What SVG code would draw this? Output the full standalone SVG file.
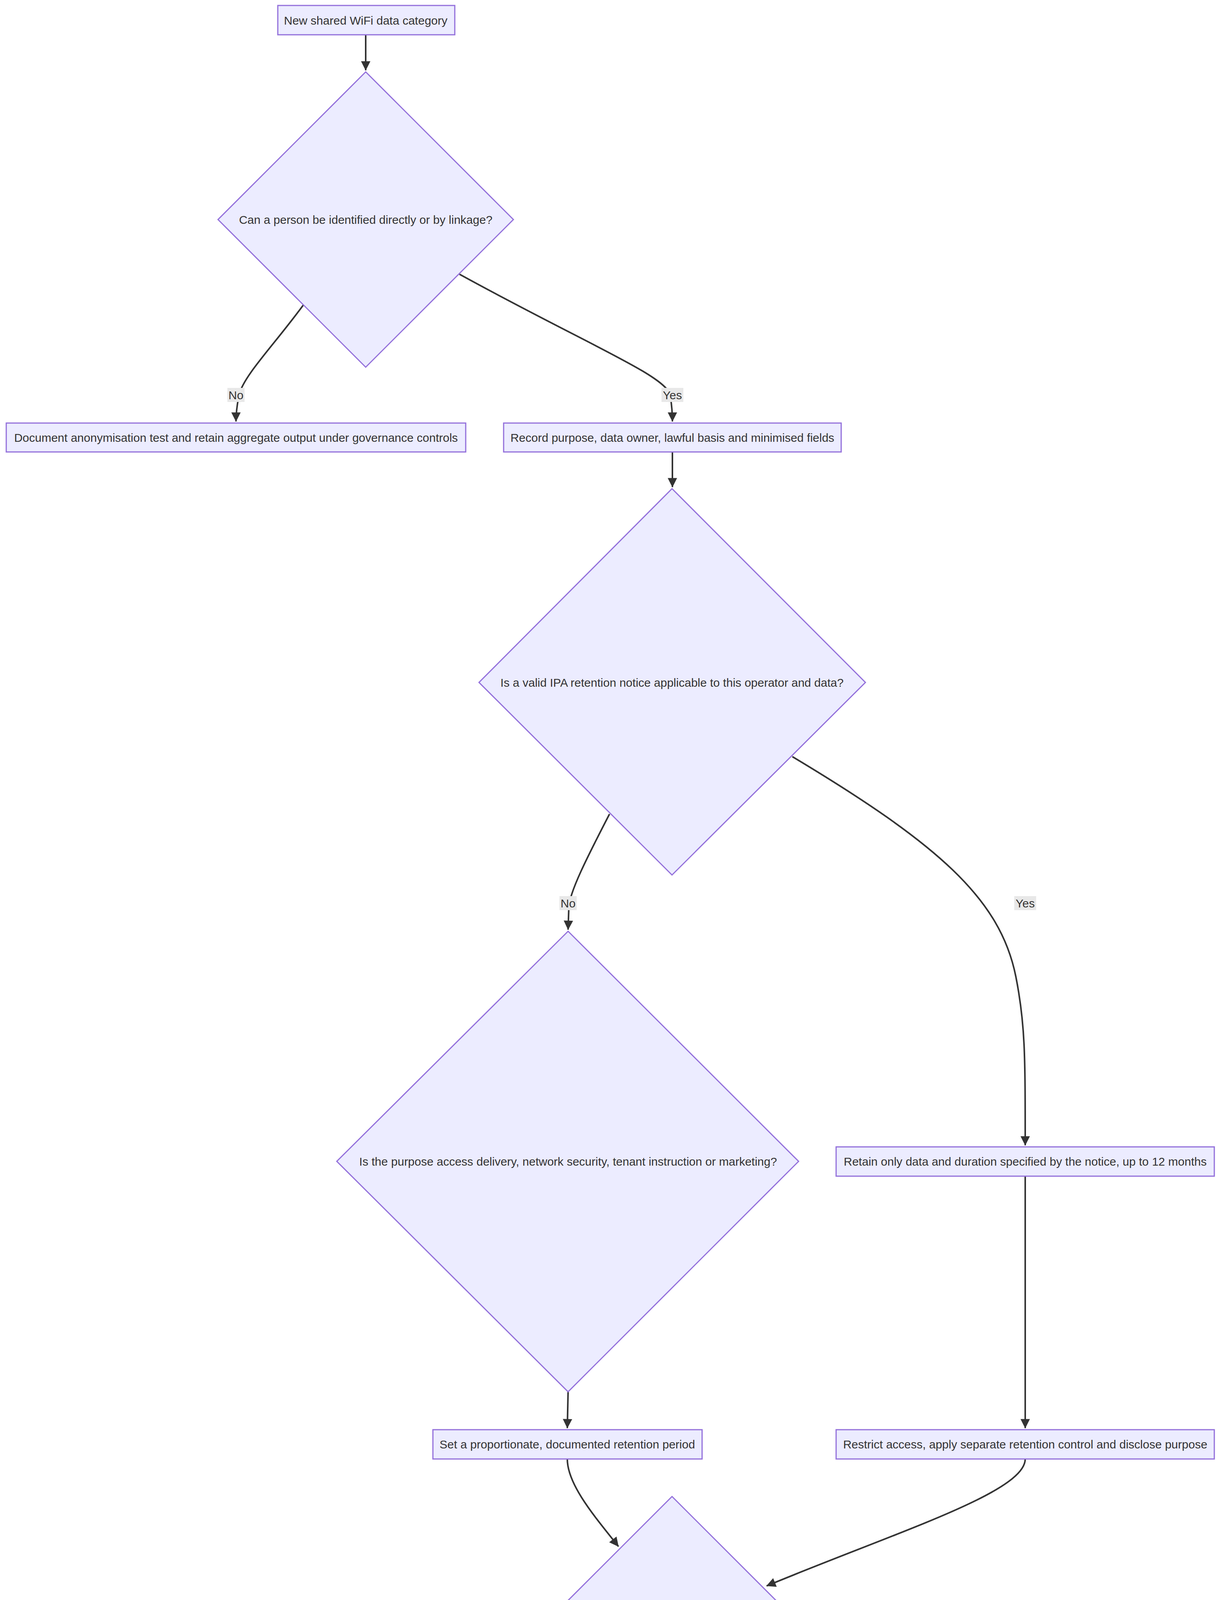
<svg xmlns="http://www.w3.org/2000/svg" width="3120" height="4884" viewBox="0 0 3120 4884">
<style>
.n{fill:#ECECFF;stroke:#9370DB;stroke-width:3}
.t{font-family:"Liberation Sans",Arial,sans-serif;font-size:30px;fill:#333;text-anchor:middle;dominant-baseline:central}
.e{fill:none;stroke:#333;stroke-width:4}
.lb{fill:#e8e8e8}
</style>
<defs><marker id="a" viewBox="0 0 10 10" refX="9" refY="5" markerWidth="8" markerHeight="8" orient="auto" markerUnits="userSpaceOnUse" style="overflow:visible"><path d="M0,0L10,5L0,10z" fill="#333" transform="scale(3)" transform-origin="10 5"/></marker></defs>
<rect width="3120" height="4884" fill="#fff"/>
<g id="edges">
<path class="e" marker-end="url(#a)" d="M936,89L936,180"/>
<path class="e" marker-end="url(#a)" d="M777,780C700,885 625,960 612,1010C606,1040 604,1060 604,1079"/>
<path class="e" marker-end="url(#a)" d="M1176,702C1500,880 1700,960 1715,1010C1720,1040 1721,1060 1721,1079"/>
<path class="e" marker-end="url(#a)" d="M1721,1157L1721,1247"/>
<path class="e" marker-end="url(#a)" d="M1560,2084C1500,2200 1460,2280 1456,2320L1454,2380"/>
<path class="e" marker-end="url(#a)" d="M2028,1937C2400,2160 2560,2300 2600,2500C2624,2620 2624,2700 2624,2932"/>
<path class="e" marker-end="url(#a)" d="M1454,3563L1452,3656"/>
<path class="e" marker-end="url(#a)" d="M2624,3011L2624,3656"/>
<path class="e" marker-end="url(#a)" d="M1452,3735C1452,3800 1520,3880 1583,3959"/>
<path class="e" marker-end="url(#a)" d="M2624,3735C2624,3820 2300,3920 1962,4060"/>
<path class="e" marker-end="url(#a)" d="M1494,4265C1200,4390 840,4530 836,4640C832,4720 880,4760 1378,4801"/>
<path class="e" marker-end="url(#a)" d="M1604,4374C1560,4450 1510,4530 1500,4570L1494,4629"/>
<path class="e" marker-end="url(#a)" d="M1944,4268C2250,4410 2530,4530 2570,4570C2580,4590 2582,4600 2582,4629"/>
<path class="e" marker-end="url(#a)" d="M1494,4708C1494,4740 1540,4760 1672,4800"/>
<path class="e" marker-end="url(#a)" d="M2582,4708C2582,4760 2450,4775 2157,4801"/>
<g>
<rect class="lb" x="582" y="993" width="44" height="36"/><text class="t" x="604" y="1011">No</text>
<rect class="lb" x="1693" y="993" width="56" height="36"/><text class="t" x="1721" y="1011">Yes</text>
<rect class="lb" x="1432" y="2294" width="44" height="36"/><text class="t" x="1454" y="2312">No</text>
<rect class="lb" x="2596" y="2294" width="56" height="36"/><text class="t" x="2624" y="2312">Yes</text>
<rect class="lb" x="1208" y="4544" width="572" height="36"/><text class="t" x="1494" y="4562">Valid erasure request with no exemption</text>
<rect class="lb" x="2330" y="4544" width="504" height="36"/><text class="t" x="2582" y="4562">Legal obligation or defensible claim</text>
<rect class="lb" x="806" y="4652" width="44" height="36"/><text class="t" x="828" y="4670">No</text>
</g>
</g>
<g id="start"><rect class="n" x="711" y="14" width="453" height="75"/><text class="t" x="936" y="52">New shared WiFi data category</text></g>
<g id="d1"><polygon class="n" points="936,184 1314,562 936,940 558,562"/><text class="t" x="936" y="562">Can a person be identified directly or by linkage?</text></g>
<g id="a1"><rect class="n" x="16" y="1083" width="1176" height="74"/><text class="t" x="604" y="1120">Document anonymisation test and retain aggregate output under governance controls</text></g>
<g id="b1"><rect class="n" x="1289" y="1083" width="864" height="74"/><text class="t" x="1721" y="1120">Record purpose, data owner, lawful basis and minimised fields</text></g>
<g id="d2"><polygon class="n" points="1720,1251 2215,1747 1720,2240 1226,1747"/><text class="t" x="1720" y="1747">Is a valid IPA retention notice applicable to this operator and data?</text></g>
<g id="d3"><polygon class="n" points="1454,2384 2044,2973 1454,3563 862,2973"/><text class="t" x="1454" y="2973">Is the purpose access delivery, network security, tenant instruction or marketing?</text></g>
<g id="c1"><rect class="n" x="2140" y="2936" width="968" height="75"/><text class="t" x="2624" y="2973">Retain only data and duration specified by the notice, up to 12 months</text></g>
<g id="e1"><rect class="n" x="1108" y="3660" width="689" height="75"/><text class="t" x="1452" y="3697">Set a proportionate, documented retention period</text></g>
<g id="f1"><rect class="n" x="2140" y="3660" width="968" height="75"/><text class="t" x="2624" y="3697">Restrict access, apply separate retention control and disclose purpose</text></g>
<g id="d4"><polygon class="n" points="1720,3831 2051,4162 1720,4493 1389,4162"/><text class="t" x="1720" y="4162">Does a rights request or legal hold apply?</text></g>
<g id="g1"><rect class="n" x="914" y="4633" width="1161" height="75"/><text class="t" x="1494" y="4670">Erase from live records and put backup copies beyond use until scheduled overwrite</text></g>
<g id="h1"><rect class="n" x="2172" y="4633" width="820" height="75"/><text class="t" x="2582" y="4670">Limit use to the retained purpose and record the exemption</text></g>
<g id="i1"><rect class="n" x="1323" y="4802" width="980" height="75"/><text class="t" x="1813" y="4839">Automated review, purge or irreversible anonymisation at end of period</text></g>
</svg>
